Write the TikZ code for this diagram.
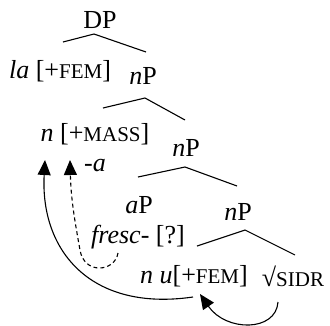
\documentclass[tikz,border=0pt]{standalone}
\usepackage{fontspec}
\setmainfont{Liberation Serif}
\usetikzlibrary{arrows.meta}
\newcommand{\smc}[1]{{\fontsize{21}{21}\selectfont #1}}
\begin{document}
\begin{tikzpicture}[x=1pt,y=-1pt,
  lbl/.style={inner sep=0pt,font=\fontsize{26}{26}\selectfont},
  branch/.style={line width=1.1pt},
  mv/.style={line width=1.1pt,-{Triangle[width=13pt,length=15pt]}}]
\useasboundingbox (0,0) rectangle (330,325);
% labels
\node[lbl] (dp) at (100,20) {DP};
\node[lbl] (la) at (60,71) {\textit{la} [+\smc{FEM}]};
\node[lbl] (np1) at (143,76) {\textit{n}P};
\node[lbl] (nmass) at (95,134) {\textit{n} [+\smc{MASS}]};
\node[lbl] (suffa) at (95,166) {-\textit{a}};
\node[lbl] (np2) at (186,148) {\textit{n}P};
\node[lbl] (ap) at (139,205) {\textit{a}P};
\node[lbl] (fresc) at (138,237) {\textit{fresc}- [?]};
\node[lbl] (np3) at (238,212) {\textit{n}P};
\node[lbl] (nu) at (194,276) {\textit{n u}[+\smc{FEM}]};
\node[lbl] (sidr) at (293,276) {√\smc{SIDR}};
% branch points
\coordinate (dpL) at (63,42);  \coordinate (dpT) at (94,34);  \coordinate (dpR) at (146,52);
\coordinate (n1L) at (103,108); \coordinate (n1T) at (145,98); \coordinate (n1R) at (185,120);
\coordinate (n2L) at (138,177); \coordinate (n2T) at (185,167); \coordinate (n2R) at (237,186);
\coordinate (n3L) at (197,246); \coordinate (n3T) at (245,230); \coordinate (n3R) at (295,255);
\draw[branch] (dpL) -- (dpT) -- (dpR);
\draw[branch] (n1L) -- (n1T) -- (n1R);
\draw[branch] (n2L) -- (n2T) -- (n2R);
\draw[branch] (n3L) -- (n3T) -- (n3R);
% movement arrows
\coordinate (s1) at (193,297); \coordinate (t1) at (45,160);
\coordinate (s2) at (118,253); \coordinate (m2) at (80,250); \coordinate (t2) at (70,160);
\coordinate (s3) at (278,302); \coordinate (t3) at (200,294);
\draw[mv] (s1) .. controls (90,312) and (40,250) .. (t1);
\draw[mv,dash pattern=on 4pt off 3pt] (s2) .. controls (115,272) and (84,275) .. (m2) .. controls (75,222) and (71,200) .. (t2);
\draw[mv] (s3) .. controls (276,332) and (226,332) .. (t3);
\end{tikzpicture}
\end{document}
